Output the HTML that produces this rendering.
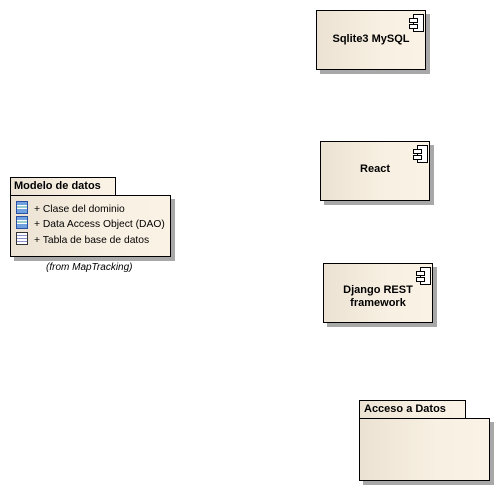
<!DOCTYPE html>
<html><head><meta charset="utf-8"><style>
body{margin:0;width:499px;height:489px;background:#fff;position:relative;overflow:hidden;font-family:"Liberation Sans",Arial,sans-serif;}
.b{position:absolute;box-sizing:border-box;border:1px solid #000;background:linear-gradient(90deg,#ebe2d3,#f8f0e2 60%,#faf2e5);box-shadow:4px 4px 0 #a8a8a8;}
.t{position:absolute;font-weight:bold;font-size:11px;color:#000;text-align:center;}
.ic{position:absolute;width:9px;height:16px;border:1px solid #000;background:#fff;}
.ic:before,.ic:after{content:"";position:absolute;left:-5px;width:7px;height:3px;border:1px solid #000;background:#fff;}
.ic:before{top:3px}.ic:after{top:9px}
.row{position:absolute;left:16px;font-size:10.3px;white-space:nowrap;}
.row i{display:inline-block;width:10px;height:11px;border:1px solid #2a4fa0;background:linear-gradient(#6fa0e0 0 3px,#fff 3px 4px,#9cc 4px 6px,#fff 6px 7px,#6fa0e0 7px);vertical-align:-2px;margin-right:6px;}
</style></head><body>
<div class="b" style="left:316px;top:10px;width:110px;height:60px"></div>
<div class="ic" style="left:413px;top:14px"></div>
<div class="t" style="left:316px;top:33px;width:110px">Sqlite3 MySQL</div>

<div class="b" style="left:320px;top:141px;width:110px;height:60px"></div>
<div class="ic" style="left:417px;top:145px"></div>
<div class="t" style="left:320px;top:163px;width:110px">React</div>

<div class="b" style="left:323px;top:263px;width:110px;height:60px"></div>
<div class="ic" style="left:420px;top:267px"></div>
<div class="t" style="left:323px;top:284px;width:110px;line-height:13px">Django REST<br>framework</div>

<div class="b" style="left:359px;top:400px;width:107px;height:20px;box-shadow:none"></div>
<div class="b" style="left:359px;top:418px;width:131px;height:63px"></div>
<div class="t" style="left:364px;top:403px;text-align:left">Acceso a Datos</div>

<div class="b" style="left:10px;top:177px;width:106px;height:20px;box-shadow:none"></div>
<div class="b" style="left:10px;top:195px;width:161px;height:62px"></div>
<div class="t" style="left:14px;top:180px;text-align:left">Modelo de datos</div>
<div class="row" style="top:201px"><i></i>+ Clase del dominio</div>
<div class="row" style="top:216px"><i></i>+ Data Access Object (DAO)</div>
<div class="row" style="top:232px"><i style="background:repeating-linear-gradient(#fff 0 2px,#8a8fd0 2px 3px);border-color:#333"></i>+ Tabla de base de datos</div>
<div style="position:absolute;left:46px;top:262px;font-size:10px;font-style:italic">(from MapTracking)</div>
</body></html>
